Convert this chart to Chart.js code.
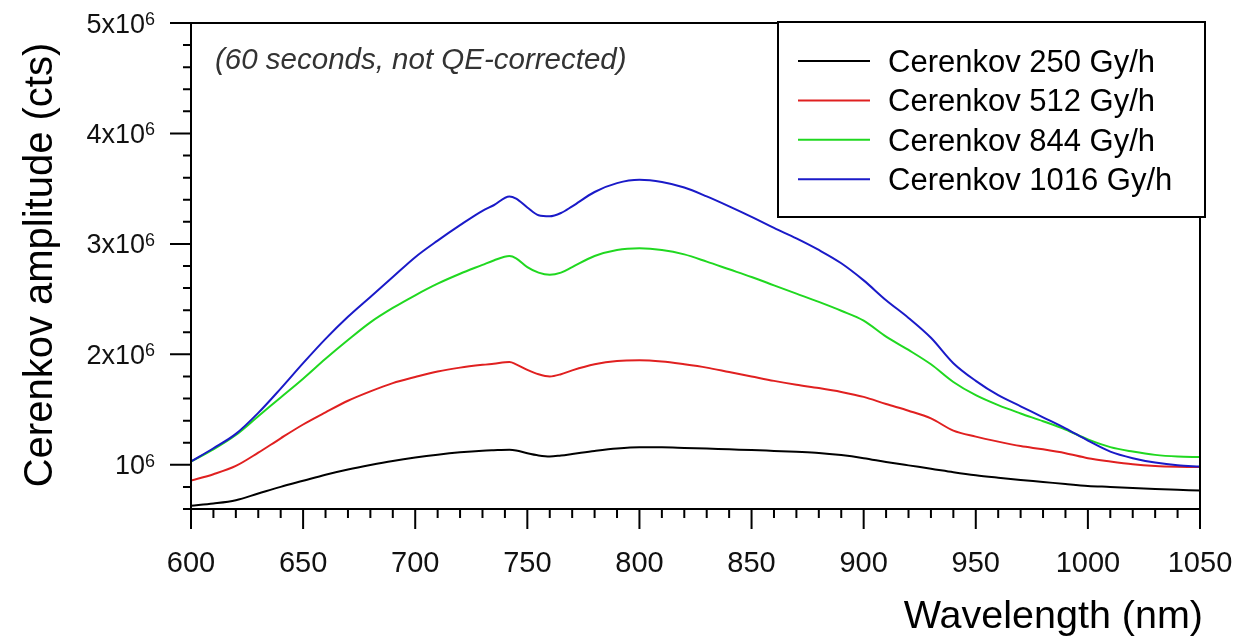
<!DOCTYPE html>
<html>
<head>
<meta charset="utf-8">
<script src="https://cdn.jsdelivr.net/npm/chart.js@4/dist/chart.umd.min.js"></script>
<style>
  html, body { margin: 0; padding: 0; background: #fff; }
  canvas { display: block; }
</style>
</head>
<body>
<canvas id="c" width="1240" height="637"></canvas>
<script>
// ---- Data (amplitude in units of 10^6 counts) ----
const wavelengths = [600,610,620,630,640,650,660,670,680,690,700,710,720,730,735,742,745,750,755,760,765,770,780,790,800,810,820,830,840,850,860,870,880,890,900,910,920,930,940,950,960,970,980,990,1000,1010,1020,1030,1040,1050];

const cerenkov250  = [0.63,0.65,0.68,0.74,0.80,0.855,0.91,0.957,0.998,1.035,1.066,1.092,1.113,1.128,1.132,1.136,1.13,1.105,1.085,1.075,1.085,1.098,1.125,1.147,1.158,1.158,1.153,1.147,1.14,1.134,1.126,1.118,1.108,1.088,1.06,1.026,0.995,0.965,0.933,0.905,0.883,0.863,0.845,0.826,0.809,0.80,0.79,0.781,0.774,0.767];
const cerenkov512  = [0.857,0.915,0.99,1.11,1.24,1.365,1.475,1.58,1.665,1.74,1.795,1.845,1.88,1.905,1.915,1.93,1.91,1.86,1.82,1.80,1.82,1.855,1.91,1.94,1.946,1.935,1.91,1.88,1.84,1.80,1.76,1.725,1.695,1.66,1.615,1.55,1.49,1.42,1.31,1.255,1.21,1.17,1.14,1.105,1.06,1.03,1.005,0.99,0.983,0.98];
const cerenkov844  = [1.03,1.14,1.27,1.44,1.61,1.78,1.96,2.13,2.29,2.42,2.535,2.64,2.73,2.81,2.85,2.89,2.87,2.79,2.74,2.72,2.74,2.79,2.89,2.945,2.96,2.945,2.905,2.84,2.77,2.70,2.625,2.55,2.475,2.395,2.305,2.16,2.04,1.91,1.75,1.63,1.54,1.465,1.395,1.32,1.23,1.16,1.12,1.09,1.075,1.07];
const cerenkov1016 = [1.03,1.15,1.28,1.47,1.69,1.92,2.14,2.34,2.52,2.70,2.88,3.03,3.17,3.30,3.35,3.43,3.41,3.33,3.26,3.25,3.28,3.34,3.47,3.55,3.58,3.56,3.51,3.43,3.34,3.245,3.145,3.05,2.945,2.825,2.67,2.49,2.33,2.15,1.92,1.76,1.63,1.53,1.43,1.33,1.22,1.12,1.06,1.02,0.995,0.985];

const seriesLabels = ['Cerenkov 250 Gy/h','Cerenkov 512 Gy/h','Cerenkov 844 Gy/h','Cerenkov 1016 Gy/h'];
const seriesColors = ['#000000','#e02020','#20d820','#1a1ac8'];

// ---- Ticks ----
const xMajorTicks = [600,650,700,750,800,850,900,950,1000,1050];
const xTickLabels = ['600','650','700','750','800','850','900','950','1000','1050'];
const xMinorTicks = [610,620,630,640,660,670,680,690,710,720,730,740,760,770,780,790,810,820,830,840,860,870,880,890,910,920,930,940,960,970,980,990,1010,1020,1030,1040];
const yMajorTicks = [1,2,3,4,5];
const yTickBases = ['10','2x10','3x10','4x10','5x10'];
const yTickExponent = '6';
const yMinorTicks = [0.6,0.8,1.2,1.4,1.6,1.8,2.2,2.4,2.6,2.8,3.2,3.4,3.6,3.8,4.2,4.4,4.6,4.8];

const xTitle = 'Wavelength (nm)';
const yTitle = 'Cerenkov amplitude (cts)';
const note = '(60 seconds, not QE-corrected)';

const FONT = '"Liberation Sans", Arial, Helvetica, sans-serif';

const series = [cerenkov250, cerenkov512, cerenkov844, cerenkov1016];

const decor = {
  id: 'decor',
  afterDatasetsDraw(chart) {
    const {ctx, chartArea: a, scales: {x, y}} = chart;
    ctx.save();
    ctx.strokeStyle = '#000';
    ctx.lineWidth = 2;
    ctx.lineCap = 'butt';
    // frame
    ctx.strokeRect(a.left, a.top, a.right - a.left, a.bottom - a.top);
    // ticks
    ctx.beginPath();
    xMajorTicks.forEach(v => { const px = x.getPixelForValue(v); ctx.moveTo(px, a.bottom); ctx.lineTo(px, a.bottom + 20); });
    xMinorTicks.forEach(v => { const px = x.getPixelForValue(v); ctx.moveTo(px, a.bottom); ctx.lineTo(px, a.bottom + 9); });
    yMajorTicks.forEach(v => { const py = y.getPixelForValue(v); ctx.moveTo(a.left, py); ctx.lineTo(a.left - 21, py); });
    yMinorTicks.forEach(v => { const py = y.getPixelForValue(v); ctx.moveTo(a.left, py); ctx.lineTo(a.left - 8, py); });
    ctx.stroke();

    ctx.fillStyle = '#111';
    // x tick labels
    ctx.font = '29px ' + FONT;
    ctx.textAlign = 'center';
    ctx.textBaseline = 'alphabetic';
    xMajorTicks.forEach((v, i) => ctx.fillText(xTickLabels[i], x.getPixelForValue(v), a.bottom + 63));
    // y tick labels with superscript
    const rightEdge = a.left - 36;
    yMajorTicks.forEach((v, i) => {
      const py = y.getPixelForValue(v);
      ctx.font = '18px ' + FONT;
      const supW = ctx.measureText(yTickExponent).width;
      ctx.textAlign = 'left';
      ctx.fillText(yTickExponent, rightEdge - supW, py + 2);
      ctx.font = '27px ' + FONT;
      ctx.textAlign = 'right';
      ctx.fillText(yTickBases[i], rightEdge - supW, py + 9.5);
    });
    // axis titles
    ctx.fillStyle = '#000';
    ctx.font = '39.5px ' + FONT;
    ctx.textAlign = 'right';
    ctx.fillText(xTitle, 1203, 628);
    ctx.save();
    ctx.translate(52, 265);
    ctx.rotate(-Math.PI / 2);
    ctx.font = '40px ' + FONT;
    ctx.textAlign = 'center';
    ctx.fillText(yTitle, 0, 0);
    ctx.restore();
    // note
    ctx.fillStyle = '#333';
    ctx.font = 'italic 29.5px ' + FONT;
    ctx.textAlign = 'left';
    ctx.fillText(note, 215, 69);

    // legend
    const lx = 778, ly = 22, lw = 427, lh = 195;
    ctx.fillStyle = '#fff';
    ctx.fillRect(lx, ly, lw, lh);
    ctx.strokeStyle = '#000';
    ctx.lineWidth = 2;
    ctx.strokeRect(lx, ly, lw, lh);
    chart.data.datasets.forEach((ds, i) => {
      const yy = 61 + i * 39.4;
      ctx.strokeStyle = ds.borderColor;
      ctx.lineWidth = 2;
      ctx.beginPath(); ctx.moveTo(798, yy); ctx.lineTo(870, yy); ctx.stroke();
      ctx.fillStyle = '#000';
      ctx.font = '31px ' + FONT;
      ctx.textAlign = 'left';
      ctx.fillText(ds.label, 888, yy + 11);
    });
    ctx.restore();
  }
};

new Chart(document.getElementById('c'), {
  type: 'line',
  data: {
    datasets: series.map((s, i) => ({
      label: seriesLabels[i],
      data: wavelengths.map((w, j) => ({x: w, y: s[j]})),
      borderColor: seriesColors[i],
      borderWidth: 2,
      pointRadius: 0,
      fill: false,
      cubicInterpolationMode: 'monotone',
      order: 3 - i
    }))
  },
  options: {
    responsive: false,
    animation: false,
    devicePixelRatio: 1,
    layout: { padding: { left: 191, top: 23, right: 40, bottom: 128 } },
    scales: {
      x: { type: 'linear', min: 600, max: 1050, display: false },
      y: { type: 'linear', min: 0.6, max: 5, display: false }
    },
    plugins: { legend: { display: false }, tooltip: { enabled: false } },
    elements: { line: { borderCapStyle: 'round', borderJoinStyle: 'round' } }
  },
  plugins: [decor]
});
</script>
</body>
</html>
